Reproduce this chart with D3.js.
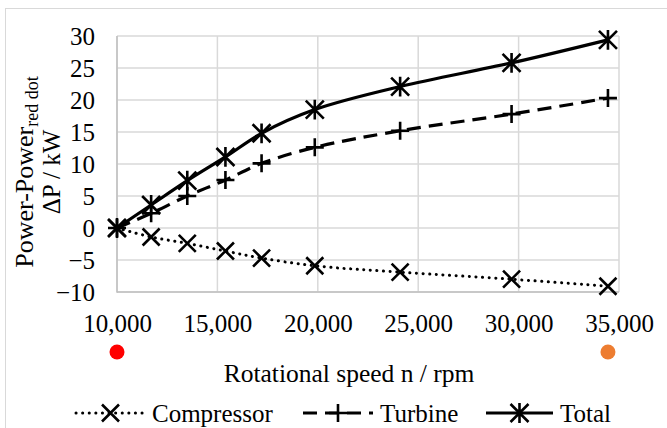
<!DOCTYPE html>
<html><head><meta charset="utf-8">
<script src="https://cdn.jsdelivr.net/npm/d3@7"></script>
<style>body{margin:0;background:#fff}svg{display:block}</style>
</head><body><svg id="c" width="667" height="428"></svg>
<script>
const speeds = [10000, 11700, 13500, 15400, 17200, 19850, 24100, 29650, 34450];
const compressor = [0, -1.4, -2.4, -3.6, -4.7, -5.9, -6.9, -8.0, -9.1];
const turbine = [0, 2.3, 5.0, 7.5, 10.1, 12.6, 15.2, 17.8, 20.3];
const total = [0, 3.6, 7.4, 11.1, 14.8, 18.5, 22.1, 25.8, 29.4];
const xTicks = [10000, 15000, 20000, 25000, 30000, 35000];
const yTicks = [-10, -5, 0, 5, 10, 15, 20, 25, 30];
const pointSpeeds = [10000, 34450];
const pointColors = ["#ff0000", "#ed7d31"];
const seriesNames = ["Compressor", "Turbine", "Total"];

const FONT = '"Liberation Serif","Times New Roman",serif';
const FS = 25;
const svg = d3.select("#c").style("font-family", FONT);
const L = 117, R = 619, T = 36, B = 292;
const x = d3.scaleLinear().domain([10000, 35000]).range([L, R]);
const y = d3.scaleLinear().domain([-10, 30]).range([B, T]);

// chart frame
svg.append("rect").attr("x", 5.5).attr("y", 8.5).attr("width", 720).attr("height", 500)
  .attr("fill", "none").attr("stroke", "#d9d9d9");

// grid
const g = svg.append("g");
g.selectAll(".hg").data(yTicks).join("line").attr("x1", L).attr("x2", R)
  .attr("y1", d => y(d)).attr("y2", d => y(d))
  .attr("stroke", "#d9d9d9").attr("stroke-width", 1.5);
g.selectAll(".vg").data(xTicks).join("line").attr("y1", T).attr("y2", B)
  .attr("x1", d => x(d)).attr("x2", d => x(d))
  .attr("stroke", "#d9d9d9").attr("stroke-width", 1.5);
svg.append("line").attr("x1", L).attr("x2", L).attr("y1", T).attr("y2", B + 0.75).attr("stroke", "#bfbfbf").attr("stroke-width", 1.5);
svg.append("line").attr("x1", L).attr("x2", R).attr("y1", B).attr("y2", B).attr("stroke", "#bfbfbf").attr("stroke-width", 1.5);

// axes
const yAxis = svg.append("g").attr("transform", `translate(${L},0)`)
  .call(d3.axisLeft(y).tickValues(yTicks).tickSize(0).tickPadding(22).tickFormat(d3.format("d")));
yAxis.select(".domain").remove();
yAxis.selectAll("text").style("font-family", FONT).style("font-size", FS + "px").attr("fill", "#000");

const xAxis = svg.append("g").attr("transform", `translate(0,${B})`)
  .call(d3.axisBottom(x).tickValues(xTicks).tickSize(0).tickPadding(0).tickFormat(d3.format(",")));
xAxis.select(".domain").remove();
xAxis.selectAll("text").style("font-family", FONT).style("font-size", FS + "px").attr("fill", "#000")
  .attr("dy", null).attr("y", 40);

// reference dots
svg.selectAll(".dot").data(pointSpeeds).join("circle")
  .attr("cx", d => x(d)).attr("cy", 352).attr("r", 7.5).attr("fill", (d, i) => pointColors[i]);

// titles
svg.append("text").attr("x", 349).attr("y", 382).attr("text-anchor", "middle")
  .style("font-size", "25.5px").text("Rotational speed n / rpm");
const yc = 172;
const yt = svg.append("text").attr("transform", `translate(33,${yc}) rotate(-90)`)
  .attr("text-anchor", "middle").style("font-size", "26px");
yt.append("tspan").text("Power-Power");
yt.append("tspan").style("font-size", "18px").attr("dy", 5).text("red dot");
svg.append("text").attr("transform", `translate(60,${yc}) rotate(-90)`)
  .attr("text-anchor", "middle").style("font-size", FS + "px").text("ΔP / kW");

// series
const series = [
  {name: seriesNames[0], vals: compressor, dash: "0.1 6.5", cap: "round", w: 3, marker: "x"},
  {name: seriesNames[1], vals: turbine, dash: "14 8", cap: "butt", w: 3.2, marker: "plus"},
  {name: seriesNames[2], vals: total, dash: null, cap: "butt", w: 3.2, marker: "star"}
];
function markerPath(type, s) {
  const p = d3.path();
  if (type === "x" || type === "star") { p.moveTo(-s, -s); p.lineTo(s, s); p.moveTo(-s, s); p.lineTo(s, -s); }
  if (type === "plus") { p.moveTo(-s, 0); p.lineTo(s, 0); p.moveTo(0, -s); p.lineTo(0, s); }
  if (type === "star") { p.moveTo(0, -s * 1.1); p.lineTo(0, s * 1.1); }
  return p.toString();
}
const msize = {x: 8.5, plus: 9, star: 9};
const line = d3.line().curve(d3.curveCatmullRom.alpha(0.5));
series.forEach(s => {
  const pts = speeds.map((v, i) => [x(v), y(s.vals[i])]);
  svg.append("path").attr("d", line(pts)).attr("fill", "none").attr("stroke", "#000")
    .attr("stroke-width", s.w).attr("stroke-dasharray", s.dash).attr("stroke-linecap", s.cap);
  svg.selectAll(null).data(pts).join("path").attr("transform", d => `translate(${d[0]},${d[1]})`)
    .attr("d", markerPath(s.marker, msize[s.marker])).attr("stroke", "#000").attr("stroke-width", 2.6).attr("fill", "none");
});

// legend
const legX = [76, 303, 486];
const legW = [69, 70, 67];
series.forEach((s, i) => {
  const lg = svg.append("g").attr("transform", `translate(${legX[i]},413)`);
  lg.append("line").attr("x1", 0).attr("x2", legW[i]).attr("y1", 0).attr("y2", 0)
    .attr("stroke", "#000").attr("stroke-width", s.w).attr("stroke-dasharray", s.dash).attr("stroke-linecap", s.cap);
  lg.append("path").attr("transform", `translate(${legW[i] / 2},0)`).attr("d", markerPath(s.marker, msize[s.marker]))
    .attr("stroke", "#000").attr("stroke-width", 2.6).attr("fill", "none");
  lg.append("text").attr("x", legW[i] + 7).attr("y", 9).style("font-size", FS + "px").text(s.name);
});
</script></body></html>
